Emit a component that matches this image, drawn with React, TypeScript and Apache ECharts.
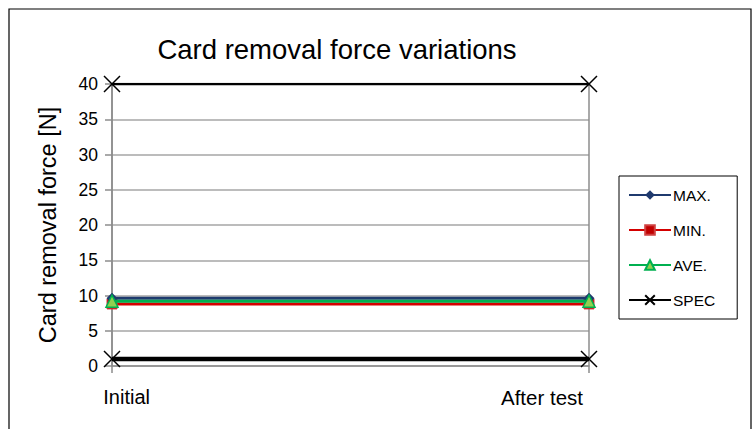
import React, { useEffect, useRef } from "react";
import * as echarts from "echarts";

const categories = ["Initial", "After test"];
const maxValues = [9.6, 9.6];
const minValues = [8.8, 8.8];
const aveValues = [9.2, 9.2];
const specUpper = [40, 40];
const specLower = [1, 1];
const legendNames = ["MAX.", "MIN.", "AVE.", "SPEC"];

const FONT = "'Liberation Sans', Arial, sans-serif";
const X_PATH = "path://M0,0L10,10M10,0L0,10";

export default function App() {
  const ref = useRef<HTMLDivElement>(null);
  useEffect(() => {
    document.body.style.margin = "0";
    const chart = echarts.init(ref.current!, null, { renderer: "svg" });
    chart.setOption({
      animation: false,
      backgroundColor: "#fff",
      textStyle: { fontFamily: FONT },
      title: {
        text: "Card removal force variations",
        left: 332,
        textAlign: "center",
        top: 30,
        textStyle: { fontSize: 27.5, fontWeight: "normal", color: "#000", fontFamily: FONT },
      },
      graphic: [
        {
          type: "rect",
          shape: { x: 9, y: 9, width: 742, height: 440 },
          style: { fill: "none", stroke: "#000", lineWidth: 1.2 },
          silent: true,
        },
      ],
      legend: {
        orient: "vertical",
        left: 619,
        top: 176,
        data: legendNames,
        itemWidth: 42,
        itemHeight: 12,
        itemGap: 19,
        padding: [11, 22, 11, 9],
        borderColor: "#000",
        borderWidth: 1,
        textStyle: { fontSize: 15.5, color: "#000", fontFamily: FONT, padding: [0, 0, 0, -3] },
      },
      grid: { left: 112, right: 166, top: 84, bottom: 63, containLabel: false },
      xAxis: {
        type: "category",
        data: categories,
        boundaryGap: false,
        axisLine: { show: true, lineStyle: { color: "#8c8c8c", width: 1.5 } },
        axisTick: { show: true, length: 7, lineStyle: { color: "#8c8c8c", width: 1.5 } },
        splitLine: { show: true, lineStyle: { color: "#8c8c8c", width: 1.5 } },
        axisLabel: {
          color: "#000",
          fontSize: 20,
          margin: 21,
          fontFamily: FONT,
          formatter: (v: string) => (v === categories[0] ? "{l|" + v + "}" : "{r|" + v + "}"),
          rich: {
            l: { width: 76, align: "right", fontSize: 20, color: "#000", fontFamily: FONT },
            r: { width: 176, align: "left", fontSize: 20.5, color: "#000", fontFamily: FONT },
          },
        },
      },
      yAxis: {
        type: "value",
        min: 0,
        max: 40,
        interval: 5,
        name: "Card removal force [N]",
        nameLocation: "middle",
        nameGap: 52,
        nameTextStyle: { fontSize: 23.5, color: "#000", fontFamily: FONT },
        axisLine: { show: true, lineStyle: { color: "#8c8c8c", width: 1.5 } },
        axisTick: { show: true, length: 7, lineStyle: { color: "#8c8c8c", width: 1.5 } },
        splitLine: { show: true, lineStyle: { color: "#a6a6a6", width: 1.5 } },
        axisLabel: { color: "#000", fontSize: 17.5, margin: 14, fontFamily: FONT },
      },
      series: [
        {
          name: "MAX.",
          type: "line",
          data: maxValues,
          symbol: "diamond",
          symbolSize: 11,
          lineStyle: { color: "#1f3a6e", width: 3 },
          itemStyle: { color: "#1f3a6e" },
          z: 3,
        },
        {
          name: "MIN.",
          type: "line",
          data: minValues,
          symbol: "rect",
          symbolSize: 10,
          lineStyle: { color: "#d40000", width: 3 },
          itemStyle: { color: "#c00000", borderColor: "#d04040", borderWidth: 1 },
          z: 2,
        },
        {
          name: "AVE.",
          type: "line",
          data: aveValues,
          symbol: "triangle",
          symbolSize: 12,
          lineStyle: { color: "#00b050", width: 3 },
          itemStyle: { color: "#92d050", borderColor: "#00b050", borderWidth: 1.5 },
          z: 4,
        },
        {
          name: "SPEC",
          type: "line",
          data: specUpper,
          symbol: X_PATH,
          symbolSize: 16,
          lineStyle: { color: "#000", width: 2.5 },
          itemStyle: { color: "rgba(0,0,0,0)", borderColor: "#000", borderWidth: 1.5 },
          z: 5,
        },
        {
          name: "SPEC",
          type: "line",
          data: specLower,
          symbol: X_PATH,
          symbolSize: 16,
          lineStyle: { color: "#000", width: 4.5 },
          itemStyle: { color: "rgba(0,0,0,0)", borderColor: "#000", borderWidth: 1.5 },
          z: 5,
        },
      ],
    });
    return () => chart.dispose();
  }, []);
  return (
    <div
      ref={ref}
      style={{ position: "absolute", left: 0, top: 0, width: 755, height: 429 }}
    />
  );
}
